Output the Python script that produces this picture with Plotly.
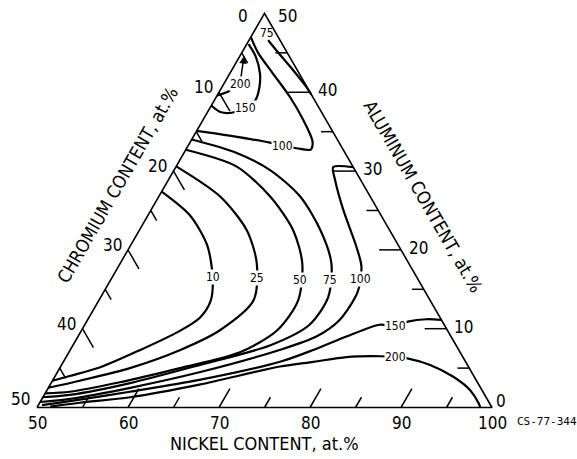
import numpy as np
import plotly.graph_objects as go

FONT = "DejaVu Sans Condensed"
S3 = np.sqrt(3) / 2

# ---- contour data: (Cr at.%, Al at.%), Ni = 100 - Cr - Al ----
cr_10 = [22.6, 21.0, 21.0, 22.4, 24.1, 26.4, 29.7, 35.0, 40.5, 44.4, 46.6]
al_10 = [27.4, 24.4, 20.6, 16.6, 13.6, 11.4, 9.6, 7.3, 5.1, 4.0, 3.4]

cr_25 = [19.4, 16.5, 15.7, 16.7, 19.4, 25.0, 30.6, 37.3, 43.6, 47.5]
al_25 = [30.6, 26.8, 22.5, 18.3, 13.6, 9.8, 7.3, 5.0, 3.4, 2.5]

cr_50 = [17.3, 12.8, 11.0, 10.6, 11.7, 14.5, 18.7, 24.2, 31.8, 39.3, 45.4, 48.2]
al_50 = [32.7, 30.6, 26.8, 22.5, 18.3, 13.6, 9.8, 7.0, 5.0, 3.2, 2.0, 1.8]

cr_75 = [16.0, 11.9, 9.3, 7.7, 7.6, 8.5, 11.0, 14.8, 20.4, 29.4, 38.2, 45.6, 48.7]
al_75 = [34.0, 32.3, 30.1, 26.8, 22.5, 18.3, 14.0, 10.5, 7.9, 5.4, 3.1, 1.6, 1.3]

cr_100 = [0.0, 2.2, 2.8, 3.8, 4.7, 5.4, 7.4, 11.2, 14.8, 19.7, 29.8, 38.5, 45.8, 49.3]
al_100 = [30.5, 30.5, 28.9, 25.1, 20.4, 17.9, 14.7, 11.1, 9.0, 7.3, 4.5, 2.5, 1.1, 0.7]

cr_150 = [0.0, 1.6, 3.8, 5.5, 7.1, 11.5, 16.0, 20.4, 30.4, 38.8, 46.0, 49.3]
al_150 = [11.1, 11.2, 10.9, 10.3, 10.5, 9.0, 7.3, 5.8, 3.5, 2.0, 0.8, 0.3]

cr_200 = [1.3, 1.2, 1.3, 2.3, 4.1, 6.1, 7.5, 9.0, 12.8, 16.7, 20.7, 30.7, 39.1, 45.0, 48.5]
al_200 = [0.0, 0.5, 2.2, 3.9, 5.4, 6.2, 6.4, 6.5, 6.4, 5.8, 5.2, 2.9, 1.3, 0.6, 0.1]

# high-aluminium corner
cr_100t = [3.0, 3.2, 2.9, 2.5, 2.5, 2.8, 3.2, 3.6, 5.0, 6.4, 7.6, 11.6, 14.9]
al_100t = [47.0, 45.0, 42.5, 39.4, 36.5, 33.9, 33.1, 32.7, 32.9, 33.2, 33.6, 34.5, 35.1]

cr_150t = [3.7, 3.7, 4.3, 5.2, 6.5, 8.1, 9.9, 11.1, 11.7]
al_150t = [46.1, 44.5, 42.4, 40.7, 39.0, 38.0, 37.4, 37.5, 38.3]

cr_200t = [10.4, 8.7, 7.1]
al_200t = [39.6, 40.2, 41.2]

cr_75t = [1.3, 0.9, 0.45, 0.1, 0.0]
al_75t = [46.6, 44.7, 42.8, 40.9, 39.7]

contours = [
    (cr_10, al_10), (cr_25, al_25), (cr_50, al_50), (cr_75, al_75),
    (cr_100, al_100), (cr_150, al_150), (cr_200, al_200),
    (cr_100t, al_100t), (cr_150t, al_150t), (cr_200t, al_200t), (cr_75t, al_75t),
]

# contour labels
lab_text = ["10", "25", "50", "75", "100", "150", "200", "100", "150", "75"]
lab_cr = [22.4, 17.6, 13.0, 9.7, 6.35, 5.5, 7.45, 6.4, 8.1, 1.0]
lab_al = [16.6, 16.4, 16.2, 16.2, 16.3, 10.3, 6.4, 33.2, 38.0, 47.5]

# arrowed label
arrow_text = "200"
arrow_cr, arrow_al = 4.95, 44.6

# axis tick labels
ni_ticks = [50, 60, 70, 80, 90, 100]
cr_ticks = [0, 10, 20, 30, 40, 50]
al_ticks = [0, 10, 20, 30, 40, 50]
tick_steps = [5, 10, 15, 20, 25, 30, 35, 40, 45]


def xy(cr, al):
    cr = np.asarray(cr, dtype=float)
    al = np.asarray(al, dtype=float)
    return 50 - cr - al / 2, al * S3


fig = go.Figure()

# triangle frame
fx, fy = xy([50, 0, 0, 50], [0, 0, 50, 0])
fig.add_trace(go.Scatter(x=fx, y=fy, mode="lines",
                         line=dict(color="black", width=1.6), hoverinfo="skip"))

# tick marks
tx, ty = [], []
for v in tick_steps:
    t = 2.4 if v % 10 == 0 else 1.3
    # nickel (bottom), value 50 + v
    a, b = xy([50 - v, 50 - v - t], [0, t])
    tx += list(a) + [None]; ty += list(b) + [None]
    # chromium (left)
    a, b = xy([v, v], [50 - v, 50 - v - t])
    tx += list(a) + [None]; ty += list(b) + [None]
    # aluminium (right)
    a, b = xy([0, t], [v, v])
    tx += list(a) + [None]; ty += list(b) + [None]
fig.add_trace(go.Scatter(x=tx, y=ty, mode="lines",
                         line=dict(color="black", width=1.5), hoverinfo="skip"))

# contour lines
for cr, al in contours:
    cx, cy = xy(cr, al)
    fig.add_trace(go.Scatter(x=cx, y=cy, mode="lines",
                             line=dict(color="black", width=2.2, shape="spline", smoothing=0.8),
                             hoverinfo="skip"))

ann = []
for txt, c, a in zip(lab_text, lab_cr, lab_al):
    px, py = xy(c, a)
    ann.append(dict(x=float(px), y=float(py), text=txt, showarrow=False,
                    font=dict(family=FONT, size=12, color="black"),
                    bgcolor="white" if txt != "75" or a < 40 else None, borderpad=0))

ax_, ay_ = xy(arrow_cr, arrow_al)
ann.append(dict(x=float(ax_), y=float(ay_), text=arrow_text, showarrow=True,
                arrowhead=2, arrowsize=1, arrowwidth=1.5, arrowcolor="black",
                ax=-4, ay=28, bgcolor="white", borderpad=0,
                font=dict(family=FONT, size=12, color="black")))

TF = dict(family=FONT, size=17, color="black")
HF = dict(family=FONT, size=18, color="black")
for v in ni_ticks:
    px, py = xy(100 - v, 0)
    ann.append(dict(x=float(px), y=float(py), text=str(v), showarrow=False,
                    font=TF, yshift=-15))
for v in cr_ticks:
    px, py = xy(v, 50 - v)
    xs, ys = -16, 5
    if v == 0:
        xs, ys = -22, -3
    elif v == 50:
        xs, ys = -17, 9
    ann.append(dict(x=float(px), y=float(py), text=str(v), showarrow=False,
                    font=TF, xshift=xs, yshift=ys))
for v in al_ticks:
    px, py = xy(0, v)
    xs, ys = 17, 2
    if v == 50:
        xs, ys = 23, -3
    elif v == 0:
        xs, ys = 9, 7
    ann.append(dict(x=float(px), y=float(py), text=str(v), showarrow=False,
                    font=TF, xshift=xs, yshift=ys))

# axis titles
px, py = xy(25, 0)
ann.append(dict(x=float(px), y=float(py), text="NICKEL CONTENT, at.%", showarrow=False,
                font=HF, yshift=-36))
px, py = xy(25, 25)
ann.append(dict(x=float(px), y=float(py), text="CHROMIUM CONTENT, at.%", showarrow=False,
                font=HF, textangle=-60, xshift=-33, yshift=26))
px, py = xy(0, 25)
ann.append(dict(x=float(px), y=float(py), text="ALUMINUM CONTENT, at.%", showarrow=False,
                font=HF, textangle=60, xshift=45, yshift=14))

px, py = xy(0, 0)
ann.append(dict(x=float(px), y=float(py), text="CS-77-344", showarrow=False,
                font=dict(family="DejaVu Sans Mono", size=11, color="black"),
                xanchor="left", xshift=23, yshift=-14))

K = 9.1
fig.update_layout(
    width=577, height=459, margin=dict(l=0, r=0, t=0, b=0),
    paper_bgcolor="white", plot_bgcolor="white", showlegend=False,
    xaxis=dict(range=[-37 / K, 540 / K], visible=False, fixedrange=True),
    yaxis=dict(range=[-51.5 / K, 407.5 / K], visible=False, fixedrange=True),
    annotations=ann,
)

fig.write_html("out.html")
